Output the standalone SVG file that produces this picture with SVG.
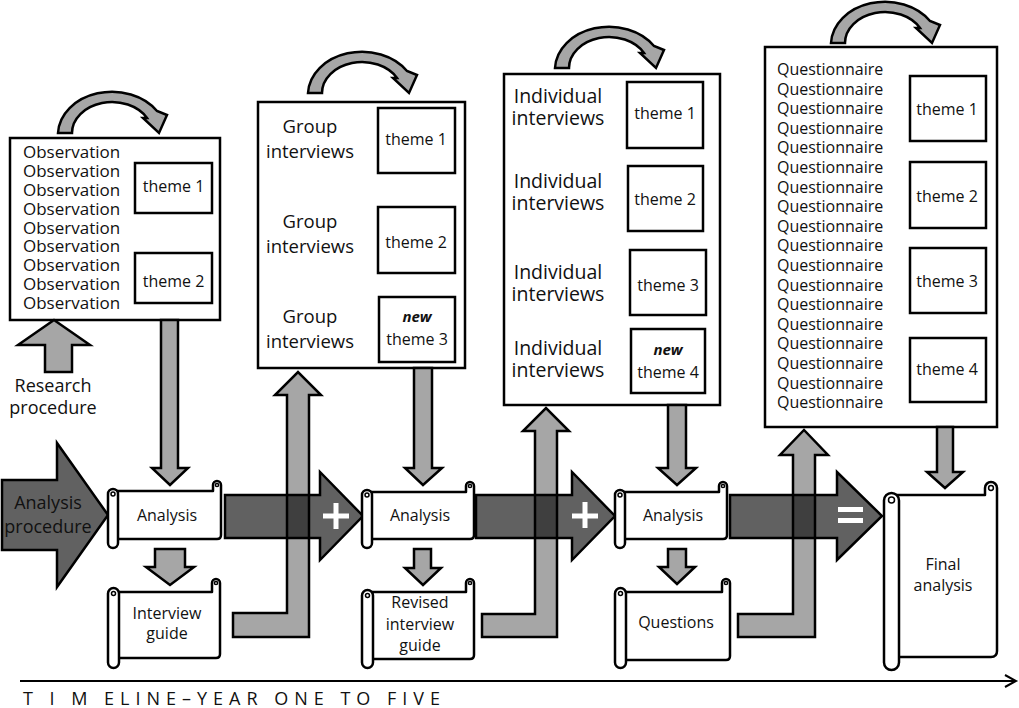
<svg xmlns="http://www.w3.org/2000/svg" width="1019" height="708" viewBox="0 0 1019 708">
<style>
.box{fill:#fff;stroke:#000;stroke-width:2.5}
.la{fill:#a6a6a6;stroke:#000;stroke-width:2.5;stroke-linejoin:miter}
.da{fill:#000;fill-opacity:0.62;stroke:#000;stroke-width:2.5}
.sc{fill:#fff;stroke:#000;stroke-width:2.5;stroke-linejoin:round}
.curl{fill:none;stroke:#000;stroke-width:1.5}
.w{fill:#fff}
text{font-family:"Open Sans","Noto Sans",sans-serif;fill:#111}
.c{text-anchor:middle}
.s16{font-size:16px}
.s18{font-size:18px}
.ob{font-size:17px}
.qn{font-size:16px}
.gi{font-size:18.5px}
.ii{font-size:19.5px}
.nw{font-size:15px;font-weight:bold;font-style:italic}
</style>
<defs>
<path id="curve" d="M58,133 A54,43 0 0 1 157,111 L167,115 L159,133 L143,118 L147,118 A40,31 0 0 0 72,133 Z"/>
</defs>

<g id="box-observation">
<rect class="box" x="10" y="138" width="210" height="182"/>
<rect class="box" x="135" y="163" width="77" height="50"/>
<rect class="box" x="135" y="253" width="77" height="50"/>
<g class="ob">
<text x="23" y="158">Observation</text>
<text x="23" y="177">Observation</text>
<text x="23" y="196">Observation</text>
<text x="23" y="215">Observation</text>
<text x="23" y="234">Observation</text>
<text x="23" y="252">Observation</text>
<text x="23" y="271">Observation</text>
<text x="23" y="290">Observation</text>
<text x="23" y="309">Observation</text>
</g>
<text class="c s16" x="173.5" y="192">theme 1</text>
<text class="c s16" x="173.5" y="287">theme 2</text>
</g>

<g id="box-group">
<rect class="box" x="258" y="102" width="207" height="266"/>
<rect class="box" x="378" y="108" width="77" height="65"/>
<rect class="box" x="378" y="207" width="77" height="66"/>
<rect class="box" x="379" y="297" width="76" height="65"/>
<g class="gi c">
<text x="310" y="133">Group</text>
<text x="310" y="158">interviews</text>
<text x="310" y="228">Group</text>
<text x="310" y="253">interviews</text>
<text x="310" y="323">Group</text>
<text x="310" y="348">interviews</text>
</g>
<text class="c s16" x="416" y="145">theme 1</text>
<text class="c s16" x="416" y="248">theme 2</text>
<text class="c nw" x="417" y="322">new</text>
<text class="c s16" x="417" y="345">theme 3</text>
</g>

<g id="box-individual">
<rect class="box" x="504" y="74" width="216" height="331"/>
<rect class="box" x="627" y="82" width="76" height="66"/>
<rect class="box" x="628" y="166" width="75" height="65"/>
<rect class="box" x="630" y="250" width="76" height="65"/>
<rect class="box" x="631" y="329" width="74" height="64"/>
<g class="ii c">
<text x="558" y="103">Individual</text>
<text x="558" y="125">interviews</text>
<text x="558" y="188">Individual</text>
<text x="558" y="210">interviews</text>
<text x="558" y="279">Individual</text>
<text x="558" y="301">interviews</text>
<text x="558" y="355">Individual</text>
<text x="558" y="377">interviews</text>
</g>
<text class="c s16" x="665" y="119">theme 1</text>
<text class="c s16" x="665" y="205">theme 2</text>
<text class="c s16" x="668" y="291">theme 3</text>
<text class="c nw" x="668" y="355">new</text>
<text class="c s16" x="668" y="378">theme 4</text>
</g>

<g id="box-questionnaire">
<rect class="box" x="765" y="47" width="232" height="380"/>
<rect class="box" x="910" y="76" width="76" height="65"/>
<rect class="box" x="910" y="162" width="76" height="66"/>
<rect class="box" x="910" y="248" width="76" height="65"/>
<rect class="box" x="910" y="338" width="76" height="64"/>
<g class="qn">
<text x="777" y="75">Questionnaire</text>
<text x="777" y="94.6">Questionnaire</text>
<text x="777" y="114.2">Questionnaire</text>
<text x="777" y="133.8">Questionnaire</text>
<text x="777" y="153.4">Questionnaire</text>
<text x="777" y="173">Questionnaire</text>
<text x="777" y="192.6">Questionnaire</text>
<text x="777" y="212.2">Questionnaire</text>
<text x="777" y="231.8">Questionnaire</text>
<text x="777" y="251.4">Questionnaire</text>
<text x="777" y="271">Questionnaire</text>
<text x="777" y="290.6">Questionnaire</text>
<text x="777" y="310.2">Questionnaire</text>
<text x="777" y="329.8">Questionnaire</text>
<text x="777" y="349.4">Questionnaire</text>
<text x="777" y="369">Questionnaire</text>
<text x="777" y="388.6">Questionnaire</text>
<text x="777" y="408.2">Questionnaire</text>
</g>
<text class="c s16" x="947" y="115">theme 1</text>
<text class="c s16" x="947" y="202">theme 2</text>
<text class="c s16" x="947" y="287">theme 3</text>
<text class="c s16" x="947" y="375">theme 4</text>
</g>

<g id="connectors">
<use href="#curve" class="la"/>
<use href="#curve" class="la" x="250" y="-40"/>
<use href="#curve" class="la" x="497" y="-65"/>
<use href="#curve" class="la" x="773" y="-90"/>
<path class="la" d="M161,320 H178 V468 H188 L170,485 L152,468 H161 Z"/>
<path class="la" d="M414,368 H432 V468 H442 L423,485 L405,468 H414 Z"/>
<path class="la" d="M668,405 H686 V468 H696 L677,485 L658,468 H668 Z"/>
<path class="la" d="M937,427 H953 V472 H963 L945,488 L927,472 H937 Z"/>
<path class="la" d="M155,549 H185 V567 H194 L170,585 L146,567 H155 Z"/>
<path class="la" d="M414,549 H431 V568 H441 L423,585 L405,568 H414 Z"/>
<path class="la" d="M668,549 H686 V567 H695 L677,584 L659,567 H668 Z"/>
<path class="la" d="M45,372 V345 H18 L54,320 L90,345 H72 V372 Z"/>
<path class="la" d="M233,613 H287 V395 H275 L298,372 L321,395 H309 V637 H233 Z"/>
<path class="la" d="M482,614 H535 V431 H523 L546,408 L569,431 H557 V637 H482 Z"/>
<path class="la" d="M738,614 H793 V455 H780 L804,430 L828,455 H815 V637 H738 Z"/>
<path class="da" d="M2,480 H57 V443 L108,515 L57,587 V550 H2 Z"/>
<path class="da" d="M225,495 H320 V472 L363,516 L320,560 V538 H225 Z"/>
<path class="da" d="M476,495 H572 V472 L615,516 L572,560 V538 H476 Z"/>
<path class="da" d="M730,495 H837 V472 L882,516 L837,560 V538 H730 Z"/>
<rect class="w" x="323" y="513.5" width="26" height="5"/>
<rect class="w" x="333.5" y="503" width="5" height="26"/>
<rect class="w" x="572" y="513.5" width="26" height="5"/>
<rect class="w" x="582.5" y="502" width="5" height="26"/>
<rect class="w" x="838" y="507" width="25" height="5"/>
<rect class="w" x="838" y="518" width="25" height="5"/>
</g>

<g id="labels-procedure">
<text class="c s18" x="53" y="392">Research</text>
<text class="c s18" x="53" y="414">procedure</text>
<text class="c s18" x="48" y="509">Analysis</text>
<text class="c s18" x="48" y="533">procedure</text>
</g>

<g id="scroll-analysis-1">
<path class="sc" d="M113,491 H213 V485 A4,4 0 0 1 221,485 V535 Q221,539 217,539 H113 Z"/>
<circle class="curl" cx="217" cy="485" r="1.6"/>
<rect class="sc" x="108" y="489" width="10" height="59" rx="5"/>
<circle class="curl" cx="113" cy="494" r="2"/>
<text class="c s16" x="167" y="521">Analysis</text>
</g>

<g id="scroll-interview-guide">
<path class="sc" d="M114,592 H212 V583 A4,4 0 0 1 220,583 V654 Q220,658 216,658 H114 Z"/>
<circle class="curl" cx="216" cy="583" r="1.6"/>
<rect class="sc" x="108" y="588" width="11" height="80" rx="5.5"/>
<circle class="curl" cx="113.5" cy="593.5" r="2"/>
<text class="c s16" x="167" y="619">Interview</text>
<text class="c s16" x="167" y="639">guide</text>
</g>

<g id="scroll-analysis-2">
<path class="sc" d="M367,492 H466 V486 A4,4 0 0 1 474,486 V535 Q474,539 470,539 H367 Z"/>
<circle class="curl" cx="470" cy="486" r="1.6"/>
<rect class="sc" x="362" y="490" width="10" height="58" rx="5"/>
<circle class="curl" cx="367" cy="495" r="2"/>
<text class="c s16" x="420" y="521">Analysis</text>
</g>

<g id="scroll-revised-guide">
<path class="sc" d="M368,592 H466 V583 A4,4 0 0 1 474,583 V655 Q474,659 470,659 H368 Z"/>
<circle class="curl" cx="470" cy="583" r="1.6"/>
<rect class="sc" x="362" y="590" width="11" height="78" rx="5.5"/>
<circle class="curl" cx="367.5" cy="595.5" r="2"/>
<text class="c s16" x="420" y="608">Revised</text>
<text class="c s16" x="420" y="630">interview</text>
<text class="c s16" x="420" y="651">guide</text>
</g>

<g id="scroll-analysis-3">
<path class="sc" d="M620,492 H719 V486 A4,4 0 0 1 727,486 V535 Q727,539 723,539 H620 Z"/>
<circle class="curl" cx="723" cy="486" r="1.6"/>
<rect class="sc" x="615" y="490" width="10" height="58" rx="5"/>
<circle class="curl" cx="620" cy="495" r="2"/>
<text class="c s16" x="673" y="521">Analysis</text>
</g>

<g id="scroll-questions">
<path class="sc" d="M621,592 H722 V583 A4,4 0 0 1 730,583 V656 Q730,660 726,660 H621 Z"/>
<circle class="curl" cx="726" cy="583" r="1.6"/>
<rect class="sc" x="615" y="588" width="11" height="80" rx="5.5"/>
<circle class="curl" cx="620.5" cy="593.5" r="2"/>
<text class="c s16" x="676" y="628">Questions</text>
</g>

<g id="scroll-final-analysis">
<path class="sc" d="M891,495 H985 V488 A6,6 0 0 1 997,488 V651 Q997,657 991,657 H891 Z"/>
<circle class="curl" cx="991" cy="488" r="2.4"/>
<rect class="sc" x="884" y="493" width="15" height="177" rx="7.5"/>
<circle class="curl" cx="891.5" cy="500" r="3"/>
<text class="c s16" x="943" y="570">Final</text>
<text class="c s16" x="943" y="591">analysis</text>
</g>

<g id="timeline">
<line x1="20" y1="681" x2="1016" y2="681" stroke="#000" stroke-width="2"/>
<polyline points="1005,675 1016,681 1005,687" fill="none" stroke="#000" stroke-width="2"/>
<text x="23" y="705" font-size="18" textLength="417" lengthAdjust="spacing">T I M ELINE–YEAR ONE TO FIVE</text>
</g>
</svg>
